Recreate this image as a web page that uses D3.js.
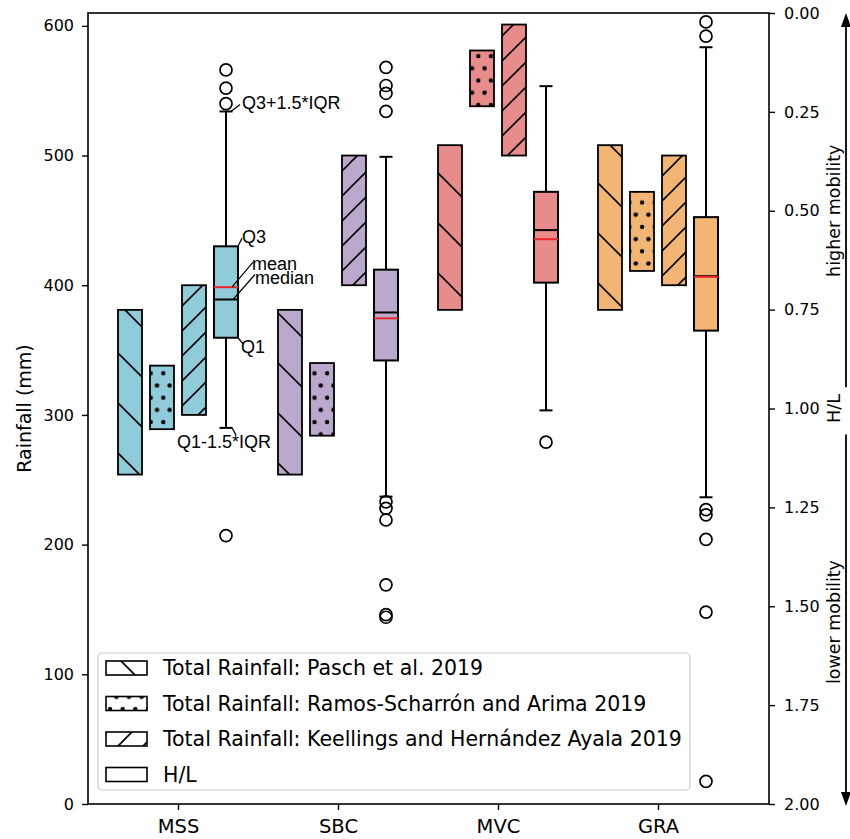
<!DOCTYPE html>
<html>
<head>
<meta charset="utf-8">
<script src="https://cdn.jsdelivr.net/npm/d3@7"></script>
<style>
  body { margin: 0; background: #fff; }
  svg { display: block; }
</style>
</head>
<body>
<div id="chart"></div>
<script>
// categories and colours
var categories = ["MSS", "SBC", "MVC", "GRA"];
var groupColors = ["#8fcbd9", "#baa9cc", "#e88b8b", "#f3b574"];

// total rainfall ranges [low, high] in mm
var paschRange = [[254, 381], [254, 381], [381, 508], [381, 508]];
var ramosRange = [[289, 338], [284, 340], [538, 581], [411, 472]];
var keellingsRange = [[300, 400], [400, 500], [500, 601], [400, 500]];

// H/L box plot stats
var hlWhiskerLow = [290, 237, 303.5, 236.5];
var hlQ1 = [359.5, 342, 402, 365];
var hlMedian = [389, 379, 442.5, 407];
var hlMean = [398.5, 374.5, 435.5, 406.5];
var hlQ3 = [430, 412, 472, 452.5];
var hlWhiskerHigh = [534, 499, 553.5, 583.5];
var hlOutliers = [
    [566, 552, 540, 207],
    [568, 554, 548, 534, 233, 228, 219, 169, 146, 144],
    [279],
    [603, 592, 227, 223, 204, 148, 17.5]
];

// axes
var leftTicks = [0, 100, 200, 300, 400, 500, 600];
var rightTicks = [0, 0.25, 0.5, 0.75, 1, 1.25, 1.5, 1.75, 2];
var legendLabels = [
    "Total Rainfall: Pasch et al. 2019",
    "Total Rainfall: Ramos-Scharrón and Arima 2019",
    "Total Rainfall: Keellings and Hernández Ayala 2019",
    "H/L"
];
var annotationLabels = ["Q3+1.5*IQR", "Q3", "mean", "median", "Q1", "Q1-1.5*IQR"];

var width = 850, height = 839;
var plot = {left: 88, right: 769, top: 13, bottom: 804};
var font = "DejaVu Sans";

var x = d3.scaleLinear().domain([0.4375, 4.69375]).range([plot.left, plot.right]);
var y = d3.scaleLinear().domain([0, 609.9]).range([plot.bottom, plot.top]);
var yRight = d3.scaleLinear().domain([0, 2]).range([plot.top, plot.bottom]);

var unit = x(1) - x(0);
var offsets = [-0.3, -0.1, 0.1, 0.3];
var barW = 0.15 * unit;

var svg = d3.select("#chart").append("svg")
    .attr("width", width)
    .attr("height", height);

svg.append("rect").attr("width", width).attr("height", height).attr("fill", "#fff");

//hatch patterns, anchored to the page
var defs = svg.append("defs");

var back = defs.append("pattern")
    .attr("id", "hatchBack")
    .attr("patternUnits", "userSpaceOnUse")
    .attr("x", 0).attr("y", 35)
    .attr("width", 50).attr("height", 50);
back.append("path")
    .attr("d", "M0,0L50,50M-5,45L5,55M45,-5L55,5")
    .attr("stroke", "#000").attr("stroke-width", 1.6);

var fwd = defs.append("pattern")
    .attr("id", "hatchFwd")
    .attr("patternUnits", "userSpaceOnUse")
    .attr("x", 0).attr("y", 13)
    .attr("width", 25).attr("height", 25);
fwd.append("path")
    .attr("d", "M0,25L25,0M-5,5L5,-5M20,30L30,20")
    .attr("stroke", "#000").attr("stroke-width", 1.6);

var dots = defs.append("pattern")
    .attr("id", "hatchDots")
    .attr("patternUnits", "userSpaceOnUse")
    .attr("x", 12.1).attr("y", 7.3)
    .attr("width", 12.6).attr("height", 24.4);
[[0, 0], [12.6, 0], [0, 24.4], [12.6, 24.4], [6.3, 12.2]].forEach(function (p) {
    dots.append("circle").attr("cx", p[0]).attr("cy", p[1]).attr("r", 2.2).attr("fill", "#000");
});

var series = [
    {ranges: paschRange, hatch: "url(#hatchBack)"},
    {ranges: ramosRange, hatch: "url(#hatchDots)"},
    {ranges: keellingsRange, hatch: "url(#hatchFwd)"}
];

//hatched range bars
series.forEach(function (s, si) {
    var g = svg.append("g");
    var bars = g.selectAll("g")
        .data(s.ranges)
        .enter().append("g");
    bars.append("rect")
        .attr("x", function (d, i) { return x(i + 1) + offsets[si] * unit - barW / 2; })
        .attr("y", function (d) { return y(d[1]); })
        .attr("width", barW)
        .attr("height", function (d) { return y(d[0]) - y(d[1]); })
        .attr("fill", function (d, i) { return groupColors[i]; });
    bars.append("rect")
        .attr("x", function (d, i) { return x(i + 1) + offsets[si] * unit - barW / 2; })
        .attr("y", function (d) { return y(d[1]); })
        .attr("width", barW)
        .attr("height", function (d) { return y(d[0]) - y(d[1]); })
        .attr("fill", s.hatch)
        .attr("stroke", "#000")
        .attr("stroke-width", 1.8);
});

//H/L box plots
var boxes = categories.map(function (c, i) {
    return {i: i, lo: hlWhiskerLow[i], q1: hlQ1[i], med: hlMedian[i], mean: hlMean[i],
        q3: hlQ3[i], hi: hlWhiskerHigh[i], out: hlOutliers[i]};
});

var box = svg.append("g").selectAll("g")
    .data(boxes)
    .enter().append("g")
    .attr("transform", function (d) { return "translate(" + (x(d.i + 1) + offsets[3] * unit) + ",0)"; });

box.append("line")
    .attr("y1", function (d) { return y(d.hi); })
    .attr("y2", function (d) { return y(d.q3); })
    .attr("stroke", "#000").attr("stroke-width", 2);
box.append("line")
    .attr("y1", function (d) { return y(d.q1); })
    .attr("y2", function (d) { return y(d.lo); })
    .attr("stroke", "#000").attr("stroke-width", 2);
box.append("line")
    .attr("x1", -6.5).attr("x2", 6.5)
    .attr("y1", function (d) { return y(d.hi); })
    .attr("y2", function (d) { return y(d.hi); })
    .attr("stroke", "#000").attr("stroke-width", 2);
box.append("line")
    .attr("x1", -6.5).attr("x2", 6.5)
    .attr("y1", function (d) { return y(d.lo); })
    .attr("y2", function (d) { return y(d.lo); })
    .attr("stroke", "#000").attr("stroke-width", 2);
box.append("rect")
    .attr("x", -barW / 2)
    .attr("width", barW)
    .attr("y", function (d) { return y(d.q3); })
    .attr("height", function (d) { return y(d.q1) - y(d.q3); })
    .attr("fill", function (d) { return groupColors[d.i]; })
    .attr("stroke", "#000").attr("stroke-width", 2);
box.append("line")
    .attr("x1", -barW / 2).attr("x2", barW / 2)
    .attr("y1", function (d) { return y(d.med); })
    .attr("y2", function (d) { return y(d.med); })
    .attr("stroke", "#000").attr("stroke-width", 2);
box.append("line")
    .attr("x1", -barW / 2).attr("x2", barW / 2)
    .attr("y1", function (d) { return y(d.mean); })
    .attr("y2", function (d) { return y(d.mean); })
    .attr("stroke", "#e8262b").attr("stroke-width", 2);
box.selectAll("circle")
    .data(function (d) { return d.out; })
    .enter().append("circle")
    .attr("cy", function (v) { return y(v); })
    .attr("r", 6)
    .attr("fill", "none")
    .attr("stroke", "#000").attr("stroke-width", 1.7);

//annotations on the MSS box
var bx = x(1) + offsets[3] * unit;
var ann = [
    {from: [bx + 5, y(hlWhiskerHigh[0])], to: [bx + 14, y(hlWhiskerHigh[0]) - 7], tx: bx + 16, ty: y(hlWhiskerHigh[0]) - 2},
    {from: [bx + barW / 2, y(hlQ3[0])], to: [bx + 16, y(hlQ3[0]) - 8], tx: bx + 16, ty: y(hlQ3[0]) - 3},
    {from: [bx + 6, y(hlMean[0])], to: [bx + 27, y(hlMean[0]) - 25], tx: bx + 26, ty: y(hlMean[0]) - 17},
    {from: [bx + 7, y(hlMedian[0])], to: [bx + 29, y(hlMedian[0]) - 25], tx: bx + 29, ty: y(hlMedian[0]) - 15},
    {from: [bx + barW / 2, y(hlQ1[0])], to: [bx + 17, y(hlQ1[0]) + 6], tx: bx + 15, ty: y(hlQ1[0]) + 15},
    {from: [bx + 6, y(hlWhiskerLow[0])], to: [bx + 10, y(hlWhiskerLow[0]) + 7], tx: bx - 49, ty: y(hlWhiskerLow[0]) + 20}
];
var annG = svg.append("g");
annG.selectAll("line")
    .data(ann)
    .enter().append("line")
    .attr("x1", function (d) { return d.from[0]; })
    .attr("y1", function (d) { return d.from[1]; })
    .attr("x2", function (d) { return d.to[0]; })
    .attr("y2", function (d) { return d.to[1]; })
    .attr("stroke", "#000").attr("stroke-width", 1.2);
annG.selectAll("text")
    .data(ann)
    .enter().append("text")
    .attr("x", function (d) { return d.tx; })
    .attr("y", function (d) { return d.ty; })
    .attr("font-family", "Liberation Sans, Arial, sans-serif")
    .attr("font-size", 18)
    .text(function (d, i) { return annotationLabels[i]; });

//frame
svg.append("rect")
    .attr("x", plot.left).attr("y", plot.top)
    .attr("width", plot.right - plot.left)
    .attr("height", plot.bottom - plot.top)
    .attr("fill", "none")
    .attr("stroke", "#000").attr("stroke-width", 1.6);

//left axis
var leftAxis = svg.append("g")
    .attr("transform", "translate(" + plot.left + ",0)")
    .call(d3.axisLeft(y).tickValues(leftTicks).tickSize(6).tickPadding(8).tickSizeOuter(0));
leftAxis.select(".domain").remove();
leftAxis.selectAll("line").attr("stroke-width", 1.4);
leftAxis.selectAll("text").attr("font-family", font).attr("font-size", 16).attr("fill", "#000");

//right axis
var rightAxis = svg.append("g")
    .attr("transform", "translate(" + plot.right + ",0)")
    .call(d3.axisRight(yRight).tickValues(rightTicks).tickFormat(d3.format(".2f")).tickSize(6).tickPadding(9).tickSizeOuter(0));
rightAxis.select(".domain").remove();
rightAxis.selectAll("line").attr("stroke-width", 1.4);
rightAxis.selectAll("text").attr("font-family", font).attr("font-size", 16).attr("fill", "#000");

//bottom axis
var bottomAxis = svg.append("g")
    .attr("transform", "translate(0," + plot.bottom + ")")
    .call(d3.axisBottom(x).tickValues([1, 2, 3, 4]).tickFormat(function (d) { return categories[d - 1]; })
        .tickSize(6).tickPadding(9).tickSizeOuter(0));
bottomAxis.select(".domain").remove();
bottomAxis.selectAll("line").attr("stroke-width", 1.4);
bottomAxis.selectAll("text").attr("font-family", font).attr("font-size", 19.5).attr("fill", "#000");

//y label
svg.append("text")
    .attr("transform", "translate(31," + ((plot.top + plot.bottom) / 2) + ") rotate(-90)")
    .attr("text-anchor", "middle")
    .attr("font-family", font)
    .attr("font-size", 19)
    .text("Rainfall (mm)");

//mobility arrow on the right
var arrowX = 846;
svg.append("line")
    .attr("x1", arrowX).attr("x2", arrowX)
    .attr("y1", yRight(0) + 6).attr("y2", yRight(0.946))
    .attr("stroke", "#000").attr("stroke-width", 1.8);
svg.append("line")
    .attr("x1", arrowX).attr("x2", arrowX)
    .attr("y1", yRight(1.066)).attr("y2", yRight(2) - 6)
    .attr("stroke", "#000").attr("stroke-width", 1.8);
svg.append("path")
    .attr("d", "M" + arrowX + "," + (yRight(0)) + "l-5,14l10,0z")
    .attr("fill", "#000");
svg.append("path")
    .attr("d", "M" + arrowX + "," + (yRight(2) + 2) + "l-5,-14l10,0z")
    .attr("fill", "#000");

var sideLabels = [["higher mobility", 0.5], ["H/L", 1.0], ["lower mobility", 1.54]];
svg.selectAll(".side")
    .data(sideLabels)
    .enter().append("text")
    .attr("class", "side")
    .attr("transform", function (d) { return "translate(840," + yRight(d[1]) + ") rotate(-90)"; })
    .attr("text-anchor", "middle")
    .attr("font-family", font)
    .attr("font-size", 17.5)
    .text(function (d) { return d[0]; });

//legend
var legend = svg.append("g").attr("transform", "translate(98,653)");
legend.append("rect")
    .attr("width", 592).attr("height", 137)
    .attr("rx", 4)
    .attr("fill", "#fff").attr("fill-opacity", 0.8)
    .attr("stroke", "#cccccc").attr("stroke-width", 1.2);

var legendHatch = ["url(#hatchBack)", "url(#hatchDots)", "url(#hatchFwd)", "none"];
var rowTop = 8, rowStep = 35.5;
var item = legend.selectAll(".item")
    .data(legendLabels)
    .enter().append("g")
    .attr("class", "item")
    .attr("transform", function (d, i) { return "translate(0," + (rowTop + i * rowStep) + ")"; });
item.append("rect")
    .attr("x", 8).attr("y", 0).attr("width", 41).attr("height", 14)
    .attr("fill", "#fff");
// hatch overlay in page coordinates so the pattern lines up like the bars
legend.selectAll(".hatchPatch")
    .data(legendLabels)
    .enter().append("rect")
    .attr("class", "hatchPatch")
    .attr("x", 8).attr("y", function (d, i) { return rowTop + i * rowStep; })
    .attr("width", 41).attr("height", 14)
    .attr("fill", function (d, i) { return legendHatch[i]; })
    .attr("stroke", "#000").attr("stroke-width", 1.6);
item.append("text")
    .attr("x", 65).attr("y", 7).attr("dy", "0.35em")
    .attr("font-family", font)
    .attr("font-size", 20.5)
    .text(function (d) { return d; });
</script>
</body>
</html>
